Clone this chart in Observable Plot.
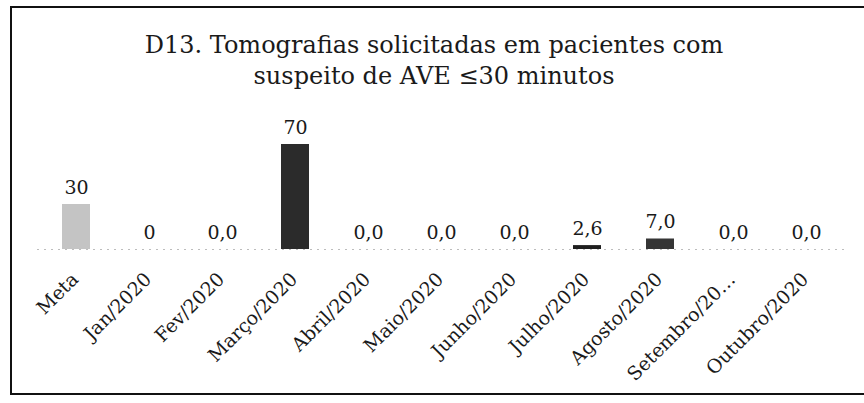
<!DOCTYPE html>
<html>
<head>
<meta charset="utf-8">
<script src="https://cdn.jsdelivr.net/npm/d3@7"></script>
<script src="https://cdn.jsdelivr.net/npm/@observablehq/plot@0.6"></script>
<style>
  html, body { margin: 0; padding: 0; background: #fff; }
  #wrap { position: relative; width: 864px; height: 403px; overflow: hidden; background: #fff; }
  #frame { position: absolute; left: 10px; top: 6px; width: 900px; height: 385px;
           border-left: 2px solid #111; border-top: 2px solid #111; border-bottom: 2px solid #111; }
  #title { position: absolute; left: 0; width: 868px; top: 30px; text-align: center;
           font-family: "DejaVu Serif", serif; font-size: 24px; line-height: 31px; color: #1a1a1a; }
  #chart { position: absolute; left: 0; top: 0; }
</style>
</head>
<body>
<div id="wrap">
  <div id="frame"></div>
  <div id="title">D13. Tomografias solicitadas em pacientes com<br>suspeito de AVE ≤30 minutos</div>
  <div id="chart"></div>
</div>
<script>
const categories = ["Meta", "Jan/2020", "Fev/2020", "Março/2020", "Abril/2020", "Maio/2020",
                    "Junho/2020", "Julho/2020", "Agosto/2020", "Setembro/20…", "Outubro/2020"];
const values = [30, 0, 0, 70, 0, 0, 0, 2.6, 7.0, 0, 0];
const valueLabels = ["30", "0", "0,0", "70", "0,0", "0,0", "0,0", "2,6", "7,0", "0,0", "0,0"];
const barColors = ["#c4c4c4", "#2b2b2b", "#2b2b2b", "#2b2b2b", "#2b2b2b", "#2b2b2b",
                   "#2b2b2b", "#1f1f1f", "#353535", "#2b2b2b", "#2b2b2b"];

const data = categories.map((c, i) => ({cat: c, value: values[i], label: valueLabels[i], color: barColors[i]}));

const chart = Plot.plot({
  width: 864,
  height: 403,
  marginLeft: 37,
  marginRight: 19,
  marginTop: 144,
  marginBottom: 154,
  style: {background: "transparent", fontFamily: "'DejaVu Serif', serif"},
  x: {domain: categories, paddingInner: 0.61, paddingOuter: 0.305, axis: null},
  y: {domain: [0, 70], axis: null},
  marks: [
    Plot.ruleY([0], {stroke: "#bdbdbd", strokeDasharray: "2,5", strokeWidth: 1}),
    Plot.barY(data, {x: "cat", y: "value", fill: "color"}),
    Plot.text(data, {x: "cat", y: "value", text: "label", lineAnchor: "bottom", dy: -11,
                     fontSize: 19, fill: "#1a1a1a"}),
    Plot.text(data, {x: "cat", y: () => 0, text: "cat", rotate: -45, textAnchor: "end",
                     lineAnchor: "bottom", dy: 31, dx: 3, fontSize: 19, fill: "#1a1a1a"})
  ]
});
document.getElementById("chart").appendChild(chart);
</script>
</body>
</html>
